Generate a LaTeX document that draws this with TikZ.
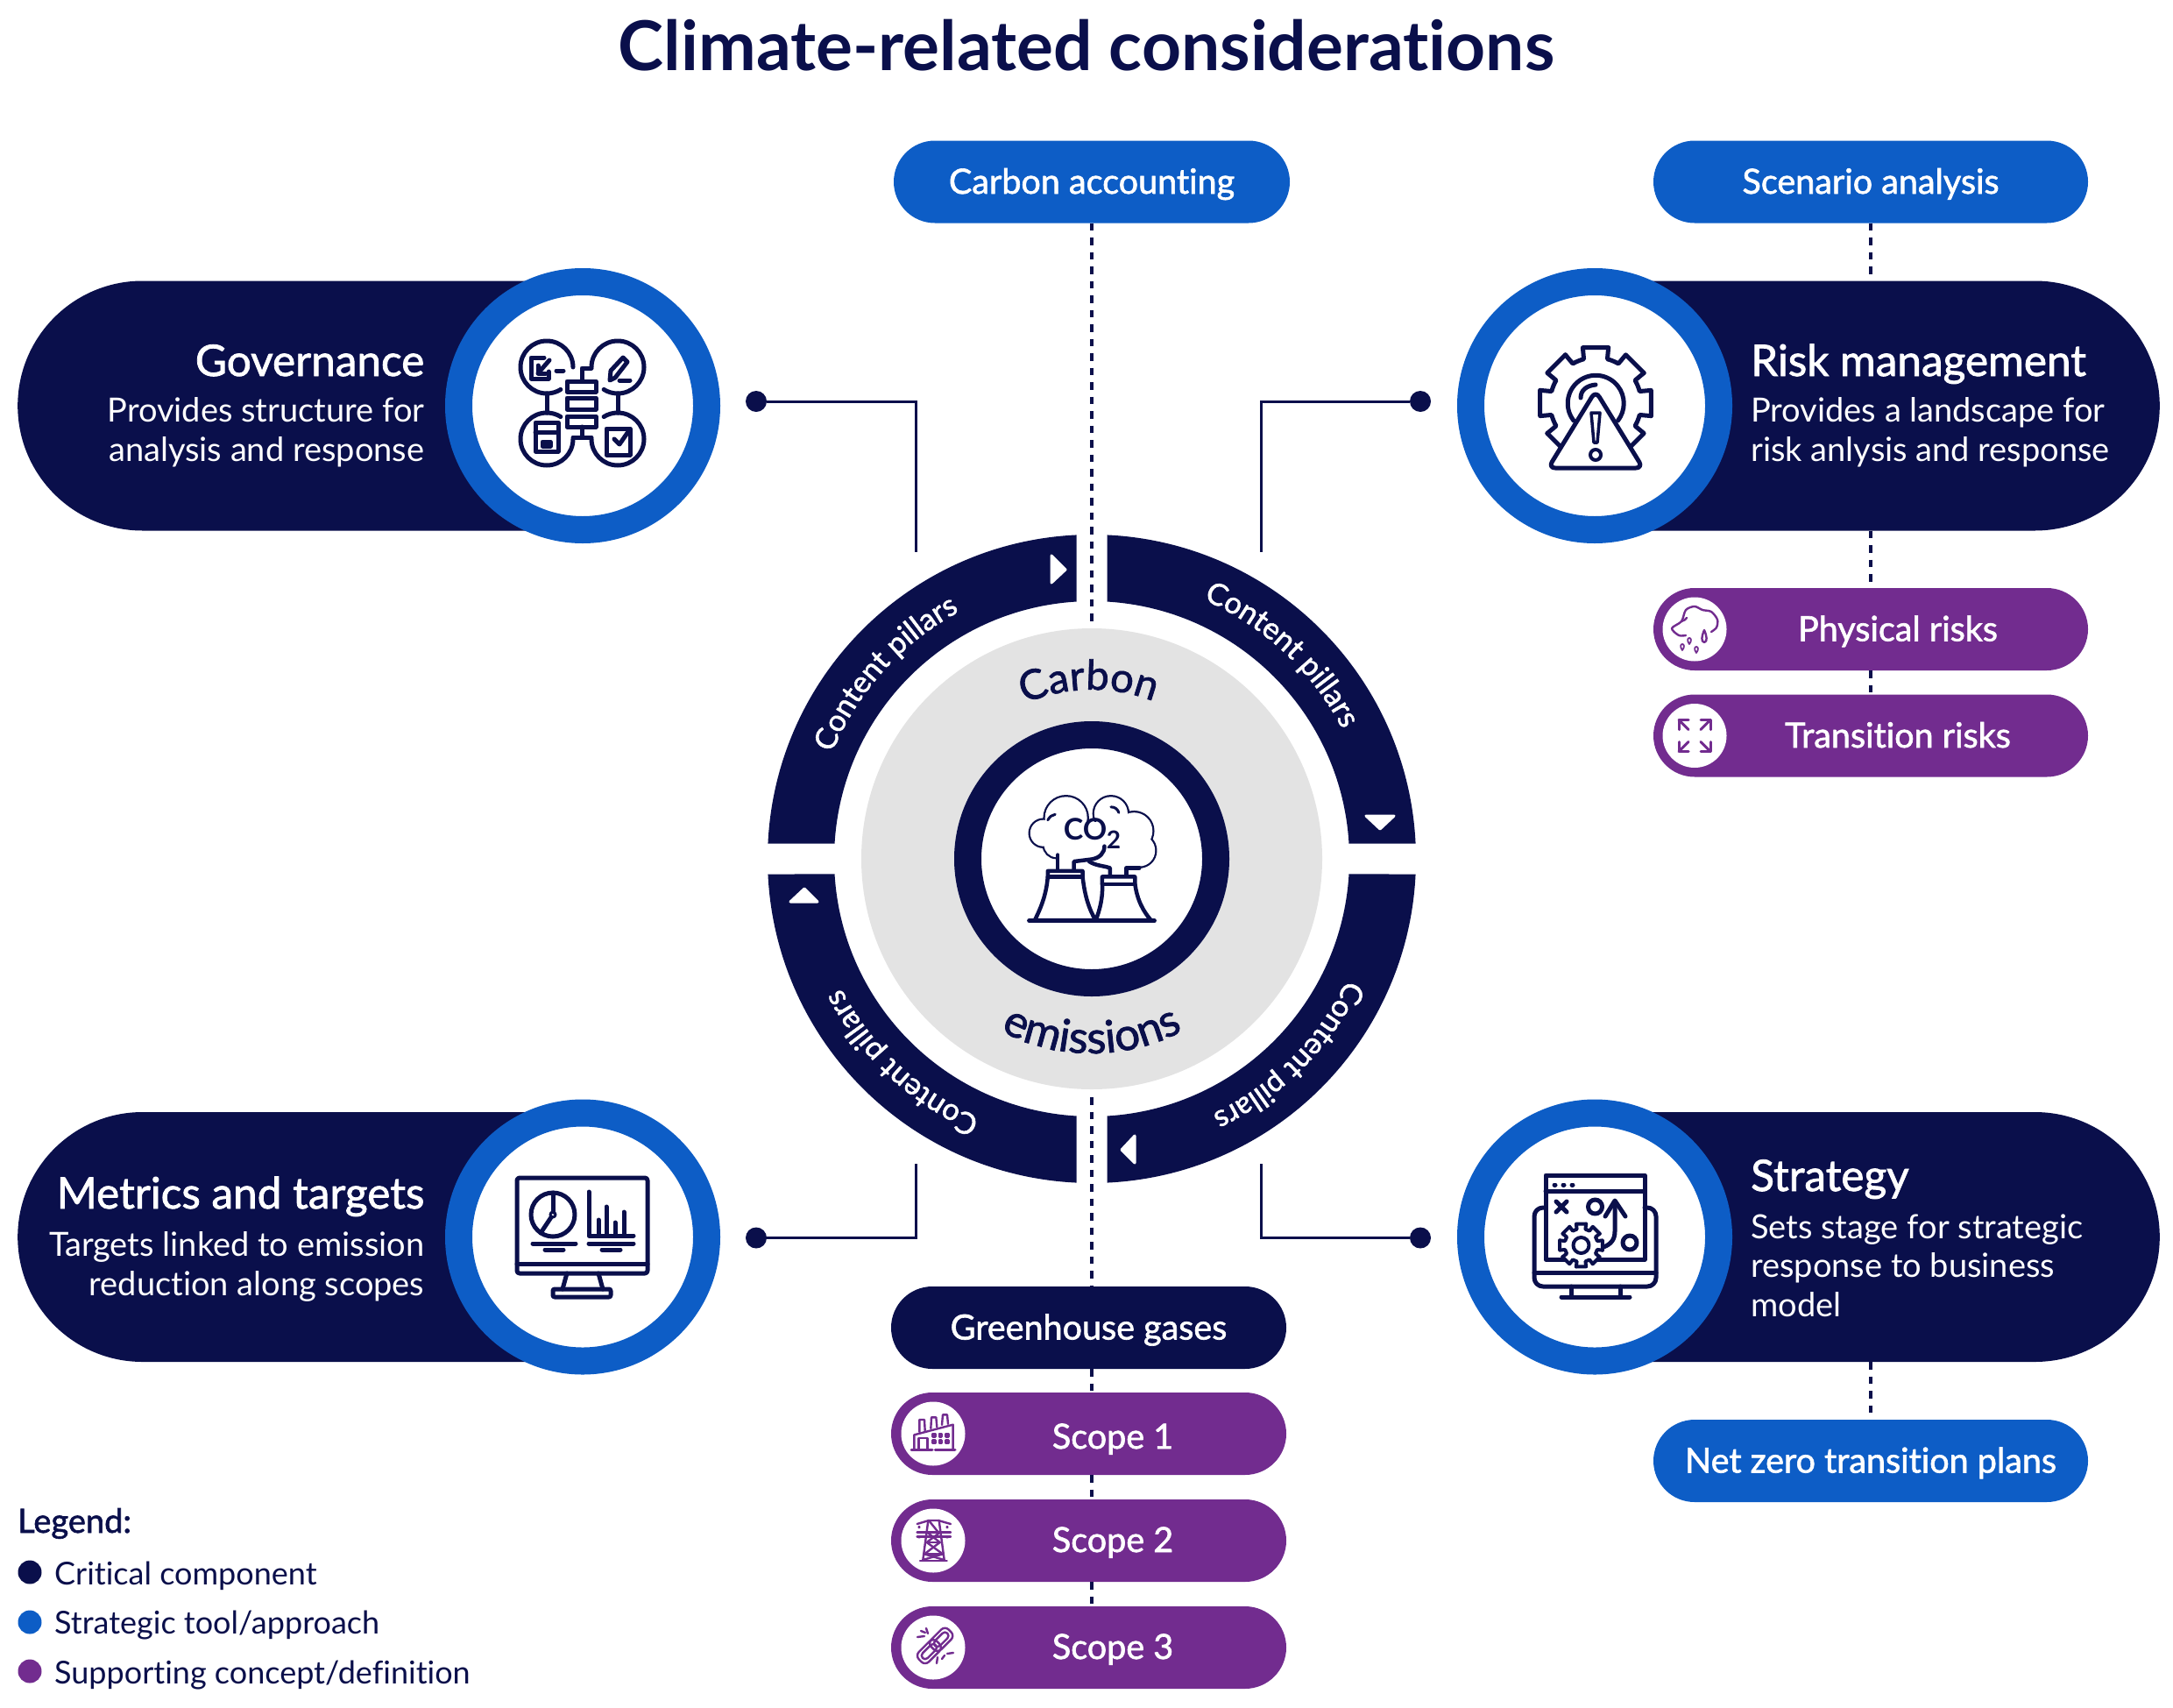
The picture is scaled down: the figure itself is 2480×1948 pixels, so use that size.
\documentclass[tikz,border=0pt]{standalone}
\usepackage{fontspec}
\usetikzlibrary{shapes.misc,decorations.text,calc}
\setmainfont{Lato}[Ligatures=NoCommon]
\newfontfamily\lmed[FakeBold=1.6,Ligatures=NoCommon]{Lato}
\newfontfamily\lreg[Ligatures=NoCommon]{Lato}
\definecolor{ccnavy}{HTML}{0A0F4B}
\definecolor{ccblue}{HTML}{0D5DC6}
\definecolor{ccpurple}{HTML}{722C8F}
\definecolor{ccgrey}{HTML}{E3E3E3}
\newcommand\fs[1]{\fontsize{#1}{#1}\selectfont}
\tikzset{
  pillshape/.style={rounded rectangle,inner sep=0pt,minimum height=94pt,text=white,font=\lmed\fs{39.5},text height=27pt,text depth=0pt},
  bluepill/.style={pillshape,fill=ccblue},
  navypill/.style={pillshape,fill=ccnavy},
  purplepill/.style={pillshape,fill=ccpurple},
  badge/.style={circle,fill=white,inner sep=0pt,minimum size=73pt},
  band/.style={rounded rectangle,fill=ccnavy,inner sep=0pt,minimum height=285pt,minimum width=645pt},
  ringnode/.style={circle,fill=white,draw=ccblue,line width=31pt,inner sep=0pt,minimum size=283pt},
  headtxt/.style={text=white,font=\lmed\fs{49.5},inner sep=0pt},
  bodytxt/.style={text=white,font=\lreg\fs{38},inner sep=0pt},
  pilltxt/.style={text=white,font=\lmed\fs{39.5},inner sep=0pt,anchor=base},
  legendtxt/.style={text=ccnavy,font=\lreg\fs{36},inner sep=0pt,anchor=base west},
  legdot/.style={circle,inner sep=0pt,minimum size=27pt},
  condot/.style={circle,fill=ccnavy,inner sep=0pt,minimum size=24pt},
  conn/.style={draw=ccnavy,line width=3pt},
  dashconn/.style={draw=ccnavy,line width=4pt,dash pattern=on 8.5pt off 8pt},
  ico/.style={draw=ccnavy,line width=5pt,line join=round,line cap=round},
  picon/.style={draw=ccpurple,line width=2.4pt,line join=round,line cap=round},
  tri/.style={fill=white,draw=white,line width=3pt,line join=round},
}
\newcommand\gearico[6]{% x y Rin Rout n style
  \foreach \ga in {1,...,#5}{
    \pgfmathsetmacro\gb{90+(\ga-1)*360/#5}
    \pgfmathsetmacro\gc{\gb+360/#5}
    \draw[#6] ($(#1,#2)+(\gb-13:#4)$) -- ($(#1,#2)+(\gb+13:#4)$) -- ($(#1,#2)+(\gb+15:#3)$)
      arc[start angle=\gb+15,end angle=\gc-15,radius=#3] -- ($(#1,#2)+(\gc-13:#4)$);
  }
}
\begin{document}
\begin{tikzpicture}[x=1pt,y=1pt]
\useasboundingbox (0,0) rectangle (2480,-1948);
\node[text=ccnavy,font=\lreg\bfseries\fs{78.5},inner sep=0pt,anchor=base] (title) at (1240,-81) {Climate-related considerations};

% central rings
\coordinate (cc) at (1246,-980);
\foreach \r in {0,90,180,270}{
  \fill[ccnavy,shift={(cc)},rotate=\r]
    (2.71:370) arc[start angle=2.71,end angle=87.29,radius=370]
    -- (86.59:294) arc[start angle=86.59,end angle=3.41,radius=294] -- cycle;
}
\node[circle,fill=ccgrey,inner sep=0pt,minimum size=526pt] (grey) at (cc) {};
\node[circle,fill=white,draw=ccnavy,line width=31pt,inner sep=0pt,minimum size=283pt] (core) at (cc) {};

% ring labels
\foreach \a/\rr in {138/320,47/322,-45/322,227/322}{
  \path[shift={(cc)},decorate,decoration={text along path,text align=center,
     text={|\lmed\fs{34.5}\color{white}|Content pillars}}]
     (\a+40:\rr) arc[start angle=\a+40,end angle=\a-40,radius=\rr];
}
\path[shift={(cc)},decorate,decoration={text along path,text align=center,
   text={|\lmed\fs{47}\color{ccnavy}|Carbon}}]
   (135:193) arc[start angle=135,end angle=47,radius=193];
\path[shift={(cc)},decorate,decoration={text along path,text align=center,
   text={|\lmed\fs{51}\color{ccnavy}|emissions}}]
   (225:222) arc[start angle=225,end angle=315,radius=222];

% triangles
\fill[tri] (1200,-634)--(1200,-665)--(1216,-650)--cycle;
\fill[tri] (1559,-931)--(1591,-931)--(1575,-946)--cycle;
\fill[tri] (902,-1029)--(933,-1029)--(918,-1014)--cycle;
\fill[tri] (1295,-1296)--(1295,-1327)--(1280,-1312)--cycle;

% bands
\node[band,rounded rectangle right arc=none,anchor=west] (govband) at (20,-463) {};
\node[band,rounded rectangle left arc=none,anchor=east] (riskband) at (2465,-463) {};
\node[band,rounded rectangle right arc=none,anchor=west] (metband) at (20,-1411.5) {};
\node[band,rounded rectangle left arc=none,anchor=east] (stratband) at (2465,-1411.5) {};
\node[ringnode] (govring) at (665,-463) {};
\node[ringnode] (riskring) at (1820,-463) {};
\node[ringnode] (metring) at (665,-1411.5) {};
\node[ringnode] (stratring) at (1820,-1411.5) {};

% band text
\node[headtxt,anchor=base east] (govh) at (484.5,-429) {Governance};
\node[bodytxt,anchor=base east] (govb) at (484.5,-481) {Provides structure for};
\node[bodytxt,anchor=base east] (govc) at (484.5,-526) {analysis and response};
\node[headtxt,anchor=base west] (riskh) at (1998,-429) {Risk management};
\node[bodytxt,anchor=base west] (riskb) at (1998,-481) {Provides a landscape for};
\node[bodytxt,anchor=base west] (riskc) at (1998,-526) {risk anlysis and response};
\node[headtxt,anchor=base east] (meth) at (484.5,-1379) {Metrics and targets};
\node[bodytxt,anchor=base east] (metb) at (484.5,-1433) {Targets linked to emission};
\node[bodytxt,anchor=base east] (metc) at (484.5,-1478) {reduction along scopes};
\node[headtxt,anchor=base west] (strath) at (1998,-1359) {Strategy};
\node[bodytxt,anchor=base west] (stratb) at (1998,-1413) {Sets stage for strategic};
\node[bodytxt,anchor=base west] (stratc) at (1998,-1457) {response to business};
\node[bodytxt,anchor=base west] (stratd) at (1998,-1502) {model};

% pills
\node[bluepill,minimum width=452pt] (carbonacc) at (1246,-207.5) {Carbon accounting};
\node[bluepill,minimum width=496pt] (scenario) at (2135,-207.5) {Scenario analysis};
\node[bluepill,minimum width=496pt] (netzero) at (2135,-1667) {Net zero transition plans};
\node[navypill,minimum width=451pt] (ghg) at (1242.5,-1515) {Greenhouse gases};
\node[purplepill,minimum width=496pt] (phys) at (2135,-718) {};
\node[purplepill,minimum width=496pt] (trans) at (2135,-839.5) {};
\node[purplepill,minimum width=451pt] (sc1) at (1242.5,-1636) {};
\node[purplepill,minimum width=451pt] (sc2) at (1242.5,-1758) {};
\node[purplepill,minimum width=451pt] (sc3) at (1242.5,-1880) {};
\node[pilltxt] (physt) at (2166,-731.5) {Physical risks};
\node[pilltxt] (transt) at (2166,-853) {Transition risks};
\node[pilltxt] (sc1t) at (1270,-1653) {Scope 1};
\node[pilltxt] (sc2t) at (1270,-1771) {Scope 2};
\node[pilltxt] (sc3t) at (1270,-1893) {Scope 3};
\node[badge] (physb) at (1934,-718) {};
\node[badge] (transb) at (1934,-839.5) {};
\node[badge] (sc1b) at (1065,-1636) {};
\node[badge] (sc2b) at (1065,-1758) {};
\node[badge] (sc3b) at (1065,-1880) {};

% dashed connectors
\coordinate (cup) at (1246,-709);
\coordinate (cdn) at (1246,-1252);
\draw[dashconn] (carbonacc.south) -- (cup);
\draw[dashconn] (cdn) -- (cdn |- ghg.north);
\draw[dashconn] (scenario.south) -- (scenario |- riskband.north);
\draw[dashconn] (scenario |- riskband.south) -- (phys.north);
\draw[dashconn] (phys.south) -- (trans.north);
\draw[dashconn] (scenario |- stratband.south) -- (netzero.north);
\draw[dashconn] (cdn |- ghg.south) -- (cdn |- sc1.north);
\draw[dashconn] (cdn |- sc1.south) -- (cdn |- sc2.north);
\draw[dashconn] (cdn |- sc2.south) -- (cdn |- sc3.north);

% solid connectors
\node[condot] (d1) at (863,-458) {};
\node[condot] (d2) at (1621,-458) {};
\node[condot] (d3) at (863,-1412.5) {};
\node[condot] (d4) at (1621,-1412.5) {};
\coordinate (e1) at (1045.5,-630);
\coordinate (e2) at (1439,-630);
\coordinate (e3) at (1045.5,-1328);
\coordinate (e4) at (1439,-1328);
\draw[conn] (d1) -| (e1);
\draw[conn] (d2) -| (e2);
\draw[conn] (d3) -| (e3);
\draw[conn] (d4) -| (e4);

% legend
\node[text=ccnavy,font=\lmed\fs{38},inner sep=0pt,anchor=base west] (legh) at (20,-1749) {Legend:};
\node[legdot,fill=ccnavy] (l1) at (34,-1794) {};
\node[legdot,fill=ccblue] (l2) at (34,-1851) {};
\node[legdot,fill=ccpurple] (l3) at (34,-1907) {};
\node[legendtxt] (l1t) at (62,-1808) {Critical component};
\node[legendtxt] (l2t) at (62,-1864) {Strategic tool/approach};
\node[legendtxt] (l3t) at (62,-1921) {Supporting concept/definition};

% --- CO2 icon
\begin{scope}[shift={(850,-590)},x=.4975pt,y=-.4975pt]
 \foreach \p/\q/\s in {685/725/15,737/690/24,840/680/19,893/720/21,905/765/18,715/752/14}
   \draw[ico,line width=4.5pt] (\p,\q) circle[radius=\s pt];
 \foreach \p/\q/\s in {685/725/15,737/690/24,840/680/19,893/720/21,905/765/18,715/752/14}
   \fill[white] (\p,\q) circle[radius=\s pt];
 \fill[white] (715,700) rectangle (880,790);
 \fill[white] (720,770) rectangle (755,810);
 \fill[white] (870,790) rectangle (895,810);
 \draw[ico,line width=4.5pt] (718,810) -- (718,775);
 \draw[ico,line width=4.5pt] (755,810) -- (755,790) -- (795,785) .. controls (815,782) and (825,770) .. (825,755);
 \draw[ico,line width=4.5pt] (790,790) .. controls (805,800) and (825,800) .. (838,805) -- (838,825);
 \draw[ico,line width=4.5pt] (875,825) -- (875,805) -- (905,805);
 \draw[ico,line width=3pt] (695,695) .. controls (700,687) and (705,683) .. (712,682);
 \draw[ico,line width=3pt] (840,665) .. controls (850,665) and (855,670) .. (858,678);
 \draw[ico,line width=4.5pt,fill=white] (695,812) -- (775,812) -- (775,825) .. controls (780,870) and (790,900) .. (805,925) -- (665,925) .. controls (680,895) and (692,865) .. (695,825) -- cycle;
 \draw[ico,line width=4.5pt,fill=white] (820,825) -- (895,825) -- (895,840) .. controls (900,880) and (915,905) .. (932,925) -- (805,925) .. controls (815,900) and (822,870) .. (820,840) -- cycle;
 \draw[ico,line width=4.5pt] (695,825) -- (775,825);
 \draw[ico,line width=4.5pt] (820,842) -- (895,842);
 \draw[ico,line width=4.5pt] (652,926) -- (940,926);
\end{scope}
\node[text=ccnavy,font=\lreg\bfseries\fs{34},inner sep=0pt,anchor=base] (co) at (1238.5,-958) {CO};
\node[text=ccnavy,font=\lreg\bfseries\fs{28},inner sep=0pt,anchor=base] (cotwo) at (1271,-968) {2};

% --- Governance icon
\begin{scope}[ico]
 \draw (654,-419) arc[start angle=0,end angle=302,radius=30];
 \draw (675,-419) arc[start angle=180,end angle=-122,radius=30];
 \draw (654,-501) arc[start angle=0,end angle=-302,radius=30];
 \draw (675,-501) arc[start angle=180,end angle=482,radius=30];
 \draw (624,-449) -- (624,-471);
 \draw (705,-449) -- (705,-471);
 \draw (647,-435) rectangle (680,-447);
 \draw (647,-454) rectangle (680,-467);
 \draw (647,-475) rectangle (680,-487);
 \draw (664,-435) -- (664,-420) -- (675,-420);
 \draw (664,-487) -- (664,-499);
 \draw (654,-499) -- (675,-499);
 % TL glyph
 \draw (621,-408) -- (606,-408) -- (606,-432) -- (626,-432) -- (626,-424);
 \draw (627,-411) -- (614,-426);
 \draw (614,-417) -- (614,-426) -- (623,-426);
 \draw (635,-423) -- (643,-423);
 % TR glyph
 \draw (696,-434) -- (697,-423) -- (711,-408) -- (716,-413) -- (702,-431) -- cycle;
 \draw (707,-434) -- (719,-434);
 % BL glyph
 \draw (611,-482) rectangle (637,-515);
 \draw (611,-493) -- (637,-493);
 \draw (619,-504) rectangle (628,-509);
 % BR glyph
 \draw (719,-489) -- (692,-489) -- (692,-519) -- (719,-519) -- cycle;
 \draw (701,-501) -- (707,-507) -- (716,-494);
\end{scope}

% --- Risk icon
\gearico{1821}{-460}{52}{65}{8}{ico}
\begin{scope}[ico]
 \draw (1796,-480) arc[start angle=218,end angle=-38,radius=32];
 \draw (1804,-454) .. controls (1804,-445) and (1811,-440) .. (1821,-439);
 \draw[fill=white,rounded corners=8pt] (1821,-446) -- (1875,-534) -- (1767,-534) -- cycle;
 \draw[line width=3.5pt] (1816,-471) -- (1826,-471) -- (1823,-505) -- (1819,-505) -- cycle;
 \draw[line width=4pt] (1821,-519) circle[radius=6];
\end{scope}

% --- Metrics icon
\begin{scope}[ico]
 \draw[rounded corners=3pt] (590,-1344) rectangle (739,-1453);
 \draw (590,-1442) -- (739,-1442);
 \draw (647,-1453) -- (642,-1471);
 \draw (683,-1453) -- (688,-1471);
 \draw[rounded corners=2pt] (631,-1471) rectangle (697,-1480);
 \draw (631,-1386) circle[radius=25];
 \draw (631,-1361) -- (631,-1383);
 \draw (629,-1389) -- (617,-1407);
 \draw[line width=3pt] (631,-1386) circle[radius=3];
 \draw (672,-1360) -- (672,-1410) -- (723,-1410);
 \draw (683,-1410) -- (683,-1392);
 \draw (692,-1410) -- (692,-1377);
 \draw (702,-1410) -- (702,-1395);
 \draw (712,-1410) -- (712,-1383);
 \draw (608,-1419) -- (657,-1419);
 \draw (672,-1419) -- (723,-1419);
 \draw (622,-1426) -- (643,-1426);
 \draw (687,-1426) -- (708,-1426);
\end{scope}

% --- Strategy icon
\begin{scope}[ico]
 \draw[rounded corners=10pt] (1764,-1378) -- (1751,-1378) -- (1751,-1468) -- (1890,-1468) -- (1890,-1378) -- (1877,-1378);
 \draw (1751,-1452) -- (1890,-1452);
 \draw (1793,-1468) -- (1793,-1480);
 \draw (1849,-1468) -- (1849,-1480);
 \draw (1782,-1480) -- (1860,-1480);
 \draw (1764,-1341) rectangle (1877,-1437);
 \draw (1764,-1359) -- (1877,-1359);
 \draw (1774,-1352) -- (1775,-1352);
 \draw (1784,-1352) -- (1785,-1352);
 \draw (1794,-1352) -- (1795,-1352);
 \draw (1776,-1371) -- (1788,-1383);
 \draw (1788,-1371) -- (1776,-1383);
 \draw (1820.5,-1377) circle[radius=8];
 \draw (1860,-1418) circle[radius=8];
 \draw (1843,-1372) -- (1843,-1405) .. controls (1843,-1415) and (1838,-1420) .. (1830,-1423);
 \draw (1832,-1388) -- (1843,-1370) -- (1855,-1388);
\end{scope}
\fill[white] (1804.5,-1421) circle[radius=23];
\gearico{1804.5}{-1421}{19}{25}{8}{ico,line width=4pt}
\draw[ico,line width=4pt] (1804.5,-1421) circle[radius=9];

% --- Physical risks icon
\draw[picon] plot[smooth] coordinates {(1924,-725) (1916,-725) (1908,-717) (1919,-709) (1924,-696) (1934,-692) (1943,-696) (1953,-698) (1960,-707) (1959,-716) (1953,-721)};
\draw[picon] (1919,-709) .. controls (1922,-708) and (1924,-707) .. (1925,-705);
\draw[picon] (1945,-719) .. controls (1942,-726) and (1941,-732) .. (1945,-733) .. controls (1949,-732) and (1948,-726) .. (1945,-719);
\foreach \p/\q in {1928/-731,1920/-738,1936/-741}
  \draw[picon,line width=1.8pt] (\p,\q-4) .. controls (\p-3,\q) and (\p-2,\q+3) .. (\p,\q+3) .. controls (\p+2,\q+3) and (\p+3,\q) .. (\p,\q-4);

% --- Transition risks icon
\foreach \sx/\sy in {1/1,1/-1,-1/1,-1/-1}{
  \draw[picon,line width=3pt,shift={(1934,-839.5)}] (\sx*7,\sy*7) -- (\sx*18,\sy*18);
  \draw[picon,line width=3pt,shift={(1934,-839.5)}] (\sx*18,\sy*7) -- (\sx*18,\sy*18) -- (\sx*7,\sy*18);
}

% --- Scope 1 factory
\begin{scope}[shift={(990,-1560)},x=.3333pt,y=-.3333pt,picon]
 \draw[line width=3pt] (150,284) -- (222,284);
 \draw[line width=3pt] (232,284) -- (300,284);
 \draw (160,280) -- (160,232) -- (293,197) -- (293,280);
 \draw (175,280) -- (175,243) -- (205,243) -- (205,280);
 \draw (178,222) -- (178,180) -- (195,180) -- (197,217);
 \draw (217,210) -- (219,172) -- (235,172) -- (238,205);
 \draw (255,198) -- (258,163) -- (273,163) -- (276,195);
 \foreach \p in {228,250,273}\foreach \q in {233,256}
   \draw (\p-4,\q-5) rectangle (\p+4,\q+5);
\end{scope}

% --- Scope 2 tower
\begin{scope}[shift={(990,-1560)},x=.3333pt,y=-.3333pt,picon]
 \draw (180,663) -- (272,663);
 \draw (208,525) -- (190,660);
 \draw (245,525) -- (263,660);
 \draw (170,537) -- (210,525) -- (243,525) -- (285,537);
 \draw (170,580) -- (285,580);
 \draw (170,566) -- (285,566);
 \draw (210,525) -- (243,566);
 \draw (205,566) -- (248,600) -- (195,640) -- (262,660);
 \draw (248,566) -- (203,600) -- (258,640) -- (190,660);
 \draw (203,600) -- (248,600);
 \draw (195,640) -- (258,640);
 \foreach \p/\q in {177/548,273/548,177/582,273/582}
   \draw (\p,\q) circle[radius=1.8];
\end{scope}

% --- Scope 3 broken link
\begin{scope}[shift={(1065,-1880)},picon]
 \begin{scope}[rotate=45]
  \draw[rounded corners=6pt] (-21,-8) rectangle (8,8);
  \draw[rounded corners=4pt] (-17,-4) rectangle (4,4);
  \draw[rounded corners=6pt] (-1,-8) rectangle (27,8);
  \draw[rounded corners=4pt] (3,-4) rectangle (23,4);
 \end{scope}
 \draw (-18,12) -- (-10,13);
 \draw (-14,19) -- (-9,17);
 \draw (-8,22) -- (-6,16);
 \draw (16,-7) -- (23,-6);
 \draw (10,-13) -- (13,-9);
 \draw (4,-18) -- (5,-11);
\end{scope}
\end{tikzpicture}
\end{document}
